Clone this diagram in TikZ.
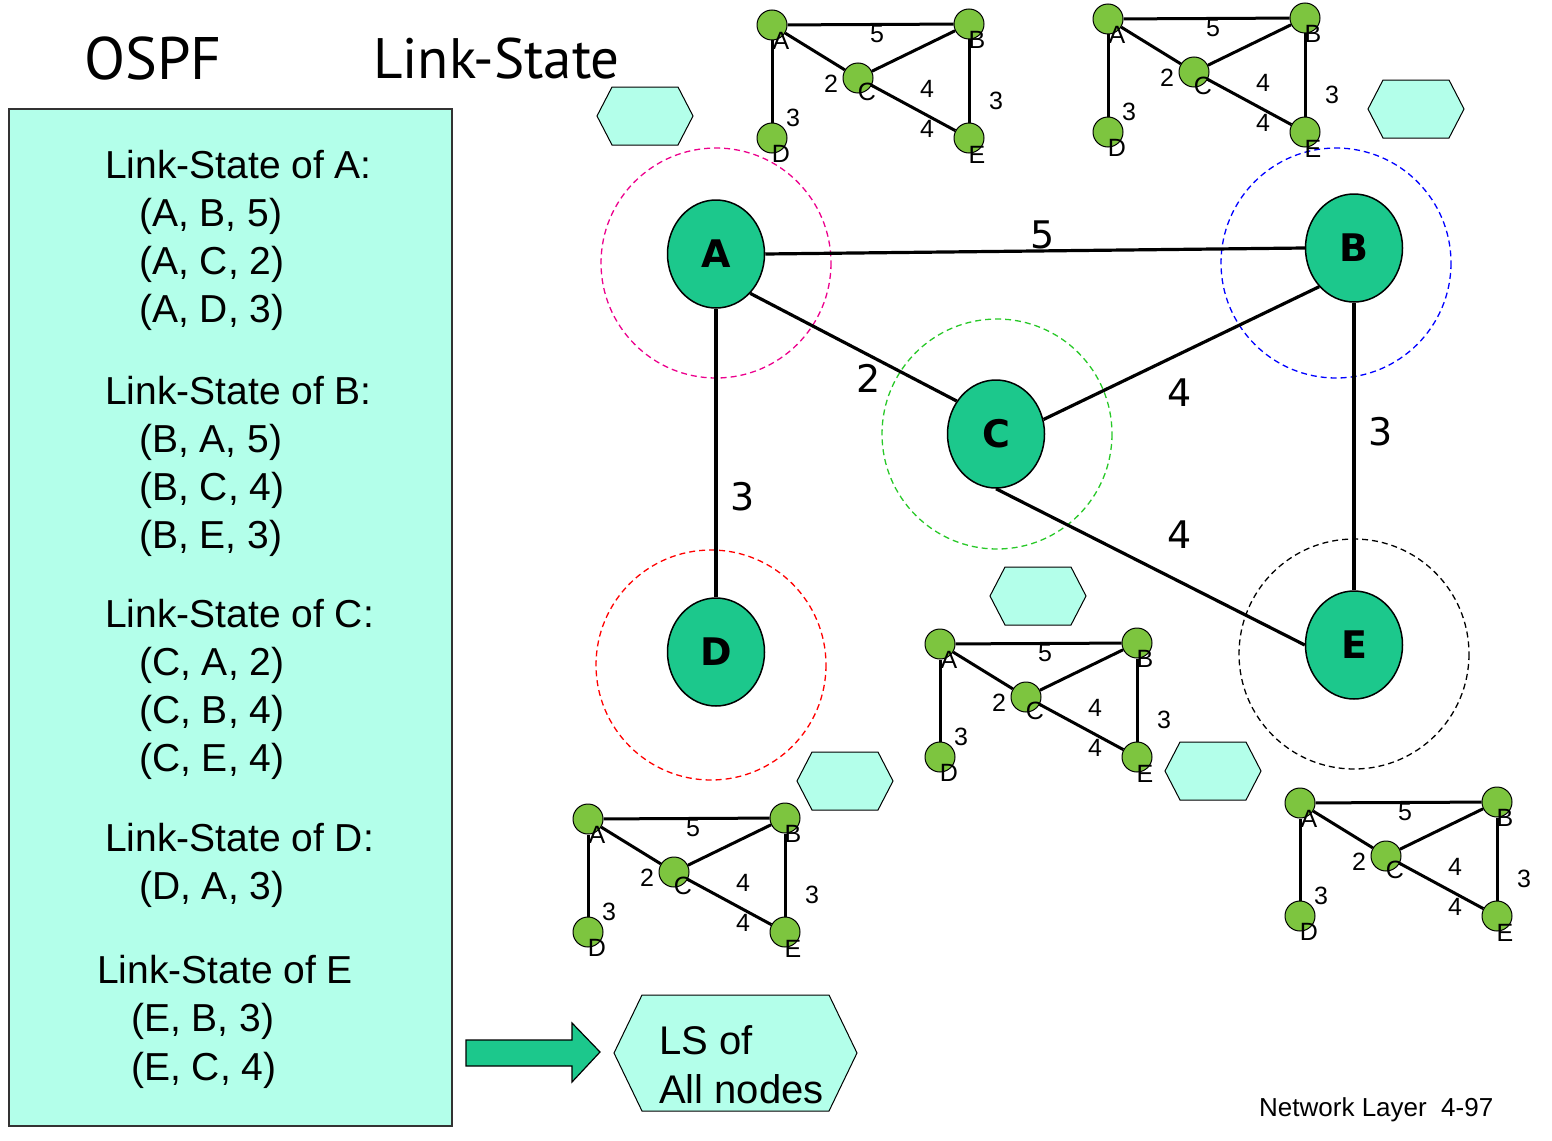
\documentclass[tikz,border=0pt]{standalone}
\usepackage{fontspec}
\setmainfont{Liberation Sans}
\newfontfamily\titlefont{PT Sans}
\newfontfamily\handfont{DejaVu Sans}
\usetikzlibrary{shapes.geometric}

\definecolor{lsbox}{RGB}{179,255,234}
\definecolor{rtgreen}{RGB}{28,200,140}
\definecolor{minigreen}{RGB}{125,197,63}
\definecolor{ringgreen}{RGB}{40,200,40}

\tikzset{
  router/.style={ellipse, draw, line width=1.5, fill=rtgreen, minimum width=97, minimum height=108,
    inner sep=0, font=\handfont\bfseries\fontsize{38}{38}\selectfont},
  link/.style={line width=3.2},
  cost/.style={font=\handfont\fontsize{38}{38}\selectfont, inner sep=0},
  ring/.style={dashed, line width=1.3, dash pattern=on 6 off 4},
  mini/.style={circle, draw, line width=1, fill=minigreen, minimum size=30, inner sep=0},
  minilink/.style={line width=3},
  minilab/.style={font=\fontsize{25}{25}\selectfont, inner sep=0},
  hexbox/.style={draw, line width=1, fill=lsbox},
  lstext/.style={font=\fontsize{39}{39}\selectfont, inner sep=0, anchor=base west}
}

\newcommand{\lshex}[2]{\draw[hexbox] (#1,#2) ++(-48,0) -- ++(15,-29) -- ++(66,0) -- ++(15,29) -- ++(-15,29) -- ++(-66,0) -- cycle;}

\begin{document}
\begin{tikzpicture}[x=1pt, y=-1pt]
    \useasboundingbox (0,0) rectangle (1552,1140);

    % Titel
    \node[inner sep=0, anchor=base west, font=\titlefont\fontsize{60}{60}\selectfont] (osp) at (84,80) {OSPF};
    \node[inner sep=0, anchor=base west, font=\titlefont\fontsize{57}{57}\selectfont] (lst) at (373,78) {Link-State};

    % Tabelle der Link-States
    \draw[line width=1.2, draw=black!80, fill=lsbox] (9,109) rectangle (452,1126);
    \foreach \n/\x/\y/\t in {hA/105/178/{Link-State of A:}, iA1/139/226/{(A, B, 5)}, iA2/139/274/{(A, C, 2)}, iA3/139/322/{(A, D, 3)},
        hB/105/404/{Link-State of B:}, iB1/139/452/{(B, A, 5)}, iB2/139/500/{(B, C, 4)}, iB3/139/548/{(B, E, 3)},
        hC/105/627/{Link-State of C:}, iC1/139/675/{(C, A, 2)}, iC2/139/723/{(C, B, 4)}, iC3/139/771/{(C, E, 4)},
        hD/105/851/{Link-State of D:}, iD1/139/899/{(D, A, 3)},
        hE/97/983/{Link-State of E}, iE1/131/1031/{(E, B, 3)}, iE2/131/1080/{(E, C, 4)}}
      \node[lstext] (\n) at (\x,\y) {\t};

    % Pfeil und LS-Sammlung
    \draw[line width=1.2, fill=rtgreen] (466,1040) -- (572,1040) -- (572,1023) -- (600,1052) -- (572,1082) -- (572,1066) -- (466,1066) -- cycle;
    \draw[hexbox] (614,1053) -- (642,995) -- (829,995) -- (857,1053) -- (829,1111) -- (642,1111) -- cycle;
    \node[lstext, font=\fontsize{40}{40}\selectfont] (lsa) at (659,1054) {LS of};
    \node[lstext, font=\fontsize{40}{40}\selectfont] (lsb) at (659,1103) {All nodes};

    % Reichweite der Router
    \draw[ring, magenta] (716,263) circle (115);
    \draw[ring, blue] (1336,263) circle (115);
    \draw[ring, ringgreen] (997,434) circle (115);
    \draw[ring, red] (711,665) circle (115);
    \draw[ring, black] (1354,654) circle (115);

    % Router
    \node[router] (nA) at (716,254) {A};
    \node[router] (nB) at (1354,248) {B};
    \node[router] (nC) at (996,434) {C};
    \node[router] (nD) at (716,652) {D};
    \node[router] (nE) at (1354,645) {E};

    % Verbindungen
    \draw[link] (nA.east) -- (nB.west);
    \draw[link] (nA.-49) -- (nC.140);
    \draw[link] (nA.south) -- (nD.north);
    \draw[link] (nB.-132) -- (nC.17);
    \draw[link] (nC.south) -- (nE.180);
    \draw[link] (nB.south) -- (nE.north);

    % Kosten
    \node[cost] (cAB) at (1043,235) {5};
    \node[cost] (cAC) at (869,378) {2};
    \node[cost] (cAD) at (743,497) {3};
    \node[cost] (cBC) at (1180,393) {4};
    \node[cost] (cCE) at (1180,535) {4};
    \node[cost] (cBE) at (1381,432) {3};

    % Hexagone
    \lshex{645}{116}
    \lshex{1416}{109}
    \lshex{1038}{596}
    \lshex{845}{781}
    \lshex{1213}{771}

    % kleine Kopien der Topologie
    \foreach \g/\gx/\gy in {m1/772/25, m2/1108/19, m3/940/644, m4/588/819, m5/1300/803}
    {
      \begin{scope}[shift={(\gx,\gy)}]
        \node[mini] (\g A) at (0,0) {};
        \node[mini] (\g B) at (197,-1) {};
        \node[mini] (\g C) at (86,53) {};
        \node[mini] (\g D) at (0,113) {};
        \node[mini] (\g E) at (197,113) {};
        \draw[minilink] (\g A) -- (\g B);
        \draw[minilink] (\g A) -- (\g C);
        \draw[minilink] (\g C) -- (\g B);
        \draw[minilink] (\g C) -- (\g E);
        \draw[minilink] (\g B) -- (\g E);
        \draw[minilink] (\g A) -- (\g D);
        \node[minilab] (\g la) at (9,16) {A};
        \node[minilab] (\g lb) at (205,15) {B};
        \node[minilab] (\g lc) at (95,67) {C};
        \node[minilab] (\g ld) at (9,129) {D};
        \node[minilab] (\g le) at (205,130) {E};
        \node[minilab] (\g c5) at (105,9) {5};
        \node[minilab] (\g c2) at (59,59) {2};
        \node[minilab] (\g c4) at (155,64) {4};
        \node[minilab] (\g c4b) at (155,104) {4};
        \node[minilab] (\g c3) at (224,76) {3};
        \node[minilab] (\g c3b) at (21,93) {3};
      \end{scope}
    }

    \node[inner sep=0, anchor=base west, font=\fontsize{26}{26}\selectfont] (pg) at (1259,1116) {Network Layer\ \ 4-97};

  \end{tikzpicture}
\end{document}
